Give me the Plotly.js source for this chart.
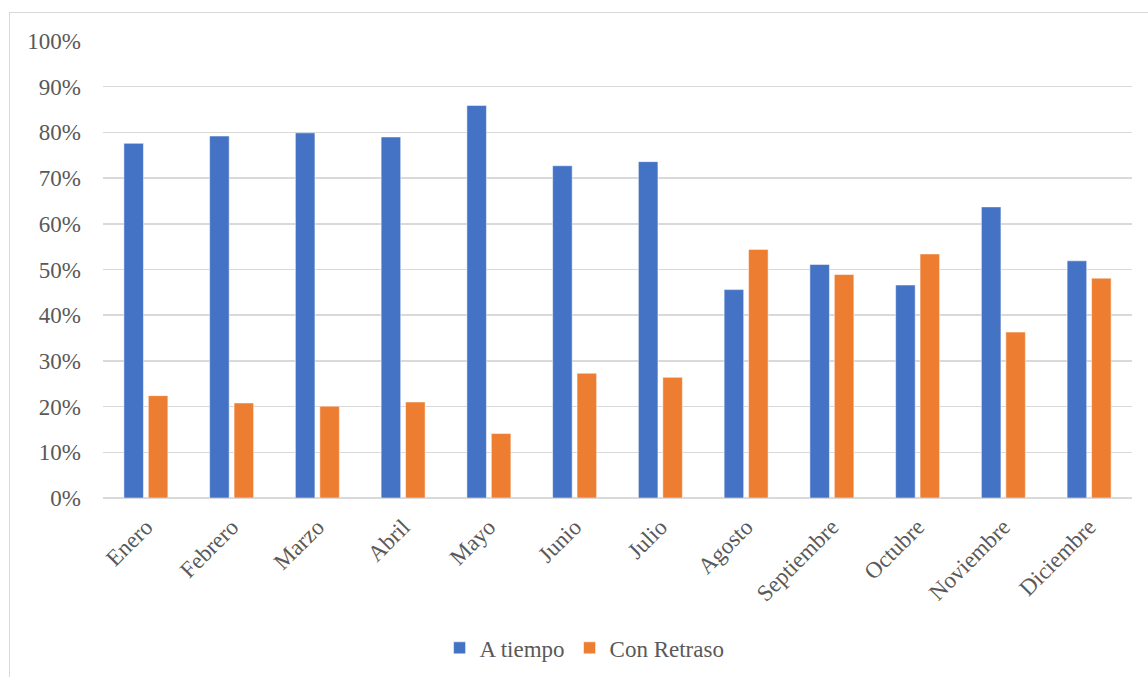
<!DOCTYPE html>
<html>
<head>
<meta charset="utf-8">
<script src="https://cdn.plot.ly/plotly-3.0.1.min.js"></script>
<style>
  html, body { margin: 0; padding: 0; background: #ffffff; overflow: hidden; }
  #frame { position: absolute; left: 9px; top: 12px; width: 1200px; height: 700px;
           border: 1px solid #d9d9d9; box-sizing: border-box; pointer-events: none; }
  #chart { width: 1148px; height: 677px; }
</style>
</head>
<body>
<div id="chart"></div>
<div id="frame"></div>
<script>
// Share of shipments per month, on time vs. delayed
const months = ["Enero", "Febrero", "Marzo", "Abril", "Mayo", "Junio", "Julio",
                "Agosto", "Septiembre", "Octubre", "Noviembre", "Diciembre"];
const aTiempo    = [0.776, 0.792, 0.799, 0.790, 0.859, 0.727, 0.736, 0.456, 0.511, 0.466, 0.637, 0.519];
const conRetraso = [0.224, 0.208, 0.201, 0.210, 0.141, 0.273, 0.264, 0.544, 0.489, 0.534, 0.363, 0.481];
const yTicks = [0, 0.1, 0.2, 0.3, 0.4, 0.5, 0.6, 0.7, 0.8, 0.9, 1.0];

const textFont = { family: "\"Liberation Serif\", \"Times New Roman\", serif", size: 23, color: "#595959" };

const traces = [
  { type: "bar", name: "A tiempo", x: months, y: aTiempo,
    marker: { color: "#4472c4", line: { color: "#ffffff", width: 0.5 } }, hoverinfo: "x+y" },
  { type: "bar", name: "Con Retraso", x: months, y: conRetraso,
    marker: { color: "#ed7d31", line: { color: "#ffffff", width: 0.5 } }, hoverinfo: "x+y" }
];

const layout = {
  width: 1148, height: 677,
  margin: { l: 103, r: 16, t: 41, b: 179, autoexpand: false },
  paper_bgcolor: "#ffffff", plot_bgcolor: "#ffffff",
  font: textFont,
  barmode: "group",
  bargap: 0.43,
  bargroupgap: 0.2,
  showlegend: true,
  legend: {
    orientation: "h", x: 0.468, xanchor: "center", y: -0.328, yanchor: "middle",
    font: textFont, bgcolor: "rgba(0,0,0,0)"
  },
  xaxis: {
    type: "category", tickangle: -45, tickfont: textFont, automargin: false,
    showgrid: false, showline: false, zeroline: false, ticks: "", ticklabelstandoff: 10
  },
  yaxis: {
    range: [0, 1], tickvals: yTicks, tickformat: ".0%", tickfont: textFont, automargin: false,
    showgrid: true, gridcolor: "#d9d9d9", gridwidth: 1.5,
    zeroline: true, zerolinecolor: "#d9d9d9", zerolinewidth: 1.5,
    showline: false, ticks: "", ticklabelstandoff: 21
  }
};

Plotly.newPlot("chart", traces, layout, { displayModeBar: false, staticPlot: true });
</script>
</body>
</html>
